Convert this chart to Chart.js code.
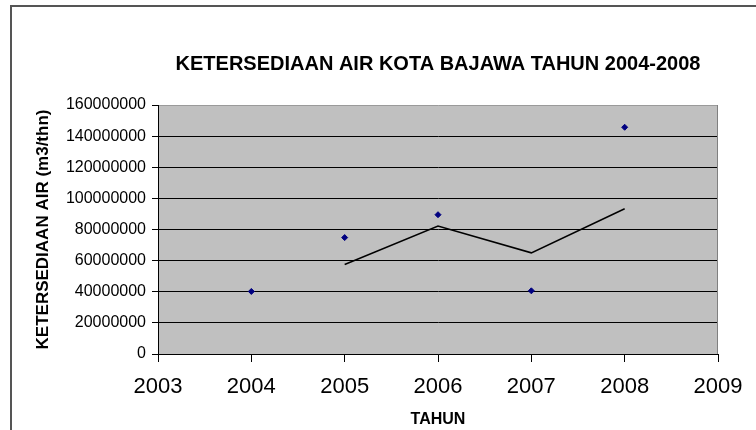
<!DOCTYPE html>
<html>
<head>
<meta charset="utf-8">
<script src="https://cdn.jsdelivr.net/npm/chart.js@4/dist/chart.umd.min.js"></script>
<style>
    body { margin: 0; background: #fff; }
    #wrap { position: relative; width: 756px; height: 430px; overflow: hidden; }
    #bingkai {
        position: absolute; left: 10px; top: 5px; width: 800px; height: 500px;
        border: 2px solid #555;
    }
    #grafik { position: absolute; left: 0; top: 0; }
</style>
</head>
<body>
<div id="wrap">
    <div id="bingkai"></div>
    <canvas id="grafik" width="756" height="430"></canvas>
</div>
<script>
const tahun = [2004, 2005, 2006, 2007, 2008];
const ketersediaan = [40200000, 74800000, 89500000, 40600000, 145700000];
const trenTahun = [2005, 2006, 2007, 2008];
const tren = [57500000, 82200000, 65000000, 93300000];

const huruf = "'Liberation Sans', Arial, sans-serif";

const latarPlot = {
    id: 'latarPlot',
    beforeDraw(chart) {
        const { ctx, chartArea: a } = chart;
        ctx.save();
        ctx.fillStyle = '#c0c0c0';
        ctx.fillRect(a.left, a.top, a.right - a.left, a.bottom - a.top);
        ctx.restore();
    },
    beforeDatasetsDraw(chart) {
        const { ctx, chartArea: a } = chart;
        ctx.save();
        ctx.strokeStyle = '#808080';
        ctx.lineWidth = 1;
        ctx.beginPath();
        ctx.moveTo(a.right - 0.5, a.top);
        ctx.lineTo(a.right - 0.5, a.bottom);
        ctx.stroke();
        ctx.restore();
    }
};

new Chart(document.getElementById('grafik'), {
    type: 'scatter',
    data: {
        datasets: [
            {
                label: 'Ketersediaan',
                data: tahun.map((t, i) => ({ x: t, y: ketersediaan[i] })),
                pointStyle: 'rectRot',
                pointRadius: 3,
                backgroundColor: '#000080',
                borderColor: '#000080',
                borderWidth: 1
            },
            {
                label: 'Tren',
                type: 'line',
                data: trenTahun.map((t, i) => ({ x: t, y: tren[i] })),
                borderColor: '#000',
                borderWidth: 1.5,
                pointRadius: 0,
                fill: false,
                tension: 0
            }
        ]
    },
    options: {
        responsive: false,
        animation: false,
        layout: { padding: { left: 10, right: 38, top: 0, bottom: 0 } },
        plugins: {
            legend: { display: false },
            tooltip: { enabled: false },
            title: {
                display: true,
                fullSize: false,
                text: 'KETERSEDIAAN AIR KOTA BAJAWA TAHUN 2004-2008',
                color: '#000',
                font: { family: huruf, size: 20, weight: 'bold' },
                padding: { top: 52, bottom: 29 }
            }
        },
        scales: {
            x: {
                type: 'linear',
                min: 2003,
                max: 2009,
                afterFit(scale) { scale.height = 76; },
                border: { color: '#000', width: 1 },
                grid: { drawOnChartArea: false, color: '#000', tickLength: 8 },
                ticks: {
                    stepSize: 1,
                    color: '#000',
                    padding: 12,
                    font: { family: huruf, size: 22 },
                    callback: v => String(v)
                },
                title: {
                    display: true,
                    text: 'TAHUN',
                    color: '#000',
                    font: { family: huruf, size: 16, weight: 'bold' },
                    padding: { top: 0, bottom: 1 }
                }
            },
            y: {
                min: 0,
                max: 160000000,
                afterFit(scale) { scale.width = 148; },
                border: { color: '#000', width: 1 },
                grid: {
                    color: c => (c.tick && c.tick.value === 160000000) ? '#9a9a9a' : '#000',
                    tickColor: '#000',
                    tickLength: 6
                },
                ticks: {
                    stepSize: 20000000,
                    color: '#000',
                    padding: 6,
                    font: { family: huruf, size: 16 },
                    callback: v => String(v)
                },
                title: {
                    display: true,
                    text: 'KETERSEDIAAN AIR (m3/thn)',
                    color: '#000',
                    font: { family: huruf, size: 17, weight: 'bold' },
                    padding: { top: 23, bottom: 0 }
                }
            }
        }
    },
    plugins: [latarPlot]
});
</script>
</body>
</html>
